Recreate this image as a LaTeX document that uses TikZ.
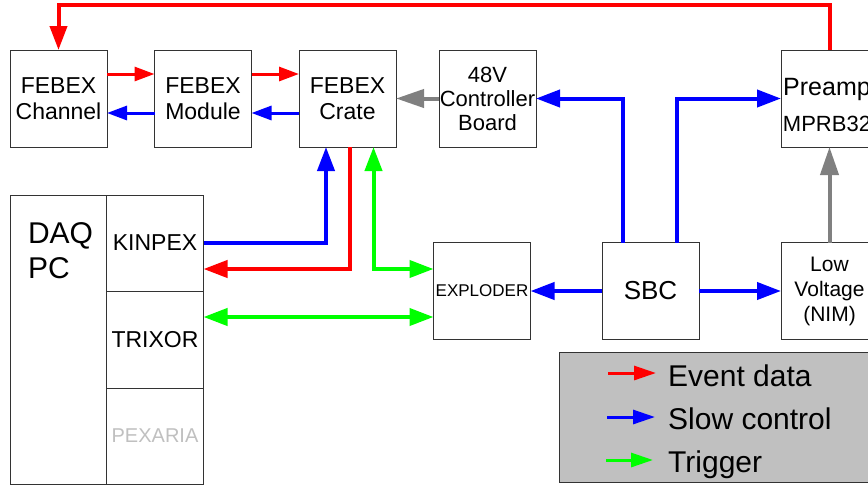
\documentclass[tikz,border=0pt]{standalone}
\usepackage{fontspec}
\setmainfont{Liberation Sans}
\usetikzlibrary{arrows.meta}
\definecolor{cred}{HTML}{FF0000}
\definecolor{cblue}{HTML}{0000FF}
\definecolor{cgreen}{HTML}{00FF00}
\definecolor{cgray}{HTML}{808080}
\definecolor{cbord}{HTML}{333333}
\definecolor{clegend}{HTML}{C0C0C0}
\definecolor{cfaint}{HTML}{C0C0C0}
\begin{document}
\begin{tikzpicture}[x=1pt,y=-1pt,
 box/.style={draw=cbord, line width=1pt, fill=white, minimum width=97pt, minimum height=97pt,
   inner sep=0pt, outer sep=0pt, align=center, font=\fontsize{23}{26}\selectfont},
 txt/.style={inner sep=0pt, outer sep=0pt},
 link/.style={line width=4pt, -{Triangle[length=24pt,width=17pt]}},
 graylink/.style={line width=4pt, cgray, -{Triangle[length=28pt,width=18pt]}},
 shortlink/.style={line width=3pt, -{Triangle[length=20pt,width=14pt]}},
 both/.style={line width=4pt, {Triangle[length=24pt,width=17pt]}-{Triangle[length=24pt,width=17pt]}},
 leglink/.style={line width=3pt, -{Triangle[length=22pt,width=14pt]}},
 legtxt/.style={anchor=base west, inner sep=0pt, font=\fontsize{30}{36}\selectfont},
]
\useasboundingbox (0,0) rectangle (868,485);
% top row
\node[box] (ch) at (58.5,98.5) {FEBEX\\Channel};
\node[box] (mod) at (203,98.5) {FEBEX\\Module};
\node[box] (crate) at (347.5,98.5) {FEBEX\\Crate};
\node[box, font=\fontsize{22}{24}\selectfont] (ctl) at (487.5,98.5) {48V\\Controller\\Board};
\node[box] (pre) at (829.5,98.5) {};
\node[txt, anchor=base, font=\fontsize{25}{28}\selectfont] (pret1) at (827,95) {Preamp};
\node[txt, anchor=base, font=\fontsize{22}{26}\selectfont] (pret2) at (827,131) {MPRB32};
% middle row
\node[box, font=\fontsize{17}{20}\selectfont] (exp) at (482,291) {EXPLODER};
\node[box, font=\fontsize{26}{30}\selectfont] (sbc) at (650.5,291) {SBC};
\node[box, font=\fontsize{21}{25}\selectfont] (lv) at (829.5,291) {Low\\Voltage\\(NIM)};
% DAQ PC
\node[draw=cbord, line width=1pt, fill=white, minimum width=193pt, minimum height=289pt,
  inner sep=0pt, outer sep=0pt] (daq) at (106.5,339.5) {};
\node[txt, anchor=base west, font=\fontsize{30}{35}\selectfont] (daqt1) at (28,243) {DAQ};
\node[txt, anchor=base west, font=\fontsize{30}{35}\selectfont] (daqt2) at (28,278) {PC};
\node[box, minimum height=96pt] (kin) at (155,243) {KINPEX};
\node[box, minimum height=97pt] (tri) at (155,339.5) {TRIXOR};
\node[box, minimum height=96pt, text=cfaint, font=\fontsize{20}{24}\selectfont] (pex) at (155,436) {PEXARIA};
% connectors
\draw[link, cred] (pre.north) -- ++(0,-45) -| (ch.north);
\draw[shortlink, cred] ([yshift=24.5pt]ch.east) -- ([yshift=24.5pt]mod.west);
\draw[shortlink, cred] ([yshift=24.5pt]mod.east) -- ([yshift=24.5pt]crate.west);
\draw[shortlink, cblue] ([yshift=-14.5pt]crate.west) -- ([yshift=-14.5pt]mod.east);
\draw[shortlink, cblue] ([yshift=-14.5pt]mod.west) -- ([yshift=-14.5pt]ch.east);
\draw[graylink] (ctl.west) -- (crate.east);
\draw[link, cblue] ([xshift=-27.5pt]sbc.north) |- (ctl.east);
\draw[link, cblue] ([xshift=26.5pt]sbc.north) |- (pre.west);
\draw[graylink] (lv.north) -- (pre.south);
\draw[link, cblue] (sbc.west) -- (exp.east);
\draw[link, cblue] (sbc.east) -- (lv.west);
\draw[link, cblue] (kin.east) -| ([xshift=-21.5pt]crate.south);
\draw[link, cred] ([xshift=2.5pt]crate.south) |- ([yshift=-26pt]kin.east);
\draw[both, cgreen] ([xshift=26pt]crate.south) |- ([yshift=22pt]exp.west);
\draw[both, cgreen] ([yshift=22.5pt]tri.east) -- ([yshift=-26pt]exp.west);
% legend
\node[draw=cbord, line width=1pt, fill=clegend, minimum width=320pt, minimum height=130pt,
  inner sep=0pt, outer sep=0pt] (leg) at (719,417) {};
\coordinate (e1) at (608,373); \coordinate (e2) at (656,373);
\coordinate (s1) at (607,417); \coordinate (s2) at (655,417);
\coordinate (g1) at (606,460); \coordinate (g2) at (653,460);
\draw[leglink, cred] (e1) -- (e2);
\draw[leglink, cblue] (s1) -- (s2);
\draw[leglink, cgreen] (g1) -- (g2);
\node[legtxt] (lt1) at (668,386) {Event data};
\node[legtxt] (lt2) at (668,429) {Slow control};
\node[legtxt] (lt3) at (668,472) {Trigger};
\end{tikzpicture}
\end{document}
